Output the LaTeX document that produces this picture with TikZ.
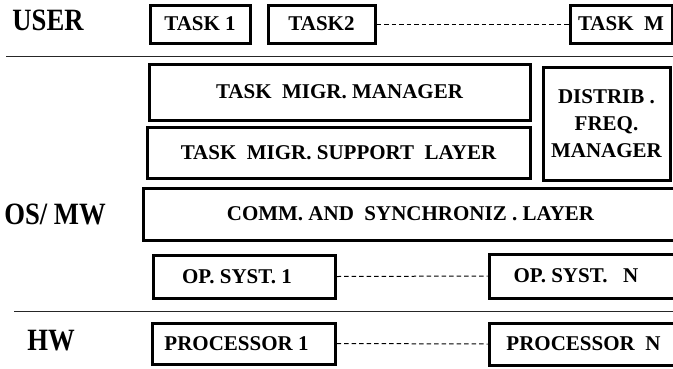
\documentclass[tikz,border=0pt]{standalone}
\usepackage{fontspec}
\setmainfont{Liberation Serif}
\newfontfamily\condfont[FakeStretch=0.86]{Liberation Serif}
\begin{document}
\begin{tikzpicture}[x=1pt,y=-1pt,
  box/.style={draw,line width=3pt,inner sep=0pt,font=\bfseries\fontsize{21}{27}\selectfont,align=center},
  lab/.style={font=\condfont\bfseries\fontsize{31}{32}\selectfont},
  dots/.style={line width=1pt,dash pattern=on 4.5pt off 3pt},
  sep/.style={line width=1.6pt,draw=black!85}]
\useasboundingbox (0,0) rectangle (673,368);
% labels
\node[lab] (user) at (48,20) {USER};
\node[lab] (osmw) at (55,214) {OS/ MW};
\node[lab] (hw) at (51,341) {HW};
% user row
\node[box,minimum width=100pt,minimum height=38pt] (t1) at (200,24) {TASK 1};
\node[box,minimum width=107pt,minimum height=38pt] (t2) at (321.5,24) {TASK2};
\node[box,minimum width=102pt,minimum height=38pt] (tm) at (621,24) {TASK\ \ M};
\draw[dots] (t2.east) -- (tm.west);
% separators
\coordinate (s1a) at (6,56.5); \coordinate (s1b) at (673,56.5);
\draw[sep] (s1a) -- (s1b);
\coordinate (s2a) at (14,311.5); \coordinate (s2b) at (673,311.5);
\draw[sep] (s2a) -- (s2b);
% OS/MW
\node[box,minimum width=381pt,minimum height=56pt] (tmm) at (339.5,92) {TASK\ \ MIGR. MANAGER};
\node[box,minimum width=383pt,minimum height=51pt] (tms) at (338.5,152.5) {TASK\ \ MIGR. SUPPORT\ \ LAYER};
\node[box,minimum width=127pt,minimum height=113pt] (dfm) at (606.5,123.5) {DISTRIB .\\FREQ.\\MANAGER};
\node[box,minimum width=535pt,minimum height=52pt] (comm) at (410.5,214) {COMM. AND\ \ SYNCHRONIZ . LAYER};
\node[box,minimum width=182pt,minimum height=43pt] (os1) at (244,276.5) {\hspace*{-14pt}OP. SYST. 1};
\node[box,minimum width=186pt,minimum height=44pt] (osn) at (582,276) {\hspace*{-12pt}OP. SYST.\ \ \ N};
\draw[dots] (os1.east) -- (osn.west);
% HW
\node[box,minimum width=183pt,minimum height=41pt] (p1) at (243.5,343.5) {\hspace*{-14pt}PROCESSOR 1};
\node[box,minimum width=186pt,minimum height=42pt] (pn) at (582,344) {\hspace*{3pt}PROCESSOR\ \ N};
\draw[dots] (p1.east) -- (pn.west);
\end{tikzpicture}
\end{document}
